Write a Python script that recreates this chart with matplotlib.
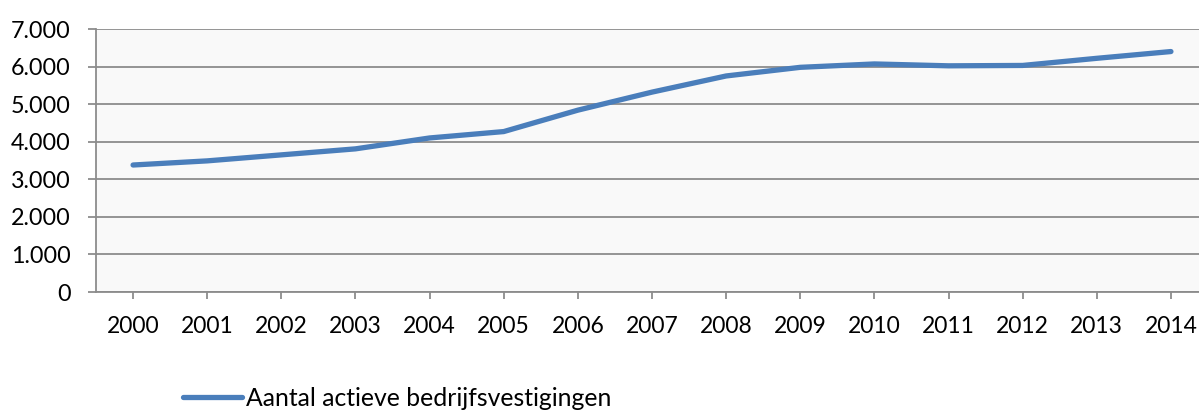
import matplotlib
matplotlib.use("Agg")
import matplotlib.pyplot as plt
from matplotlib.ticker import FuncFormatter

years = [str(y) for y in range(2000, 2015)]
vestigingen = [3380, 3490, 3650, 3810, 4100, 4270, 4840, 5320, 5750,
               5980, 6070, 6020, 6030, 6220, 6400]
series_name = "Aantal actieve bedrijfsvestigingen"

plt.rcParams['font.family'] = ['Lato', 'DejaVu Sans']

fig = plt.figure(figsize=(11.99, 4.11), dpi=100)
ax = fig.add_axes([96 / 1199, 1 - 292 / 411, 1112 / 1199, 263 / 411])
ax.set_facecolor('#F9F9F9')

x = list(range(len(years)))
ax.plot(x, vestigingen, color='#4A7EBB', linewidth=3.8,
        solid_capstyle='round', solid_joinstyle='round', label=series_name, zorder=3)

ax.set_xlim(-0.5, len(years) - 0.5)
ax.set_ylim(0, 7000)
ax.set_yticks(range(0, 7001, 1000))
ax.yaxis.set_major_formatter(FuncFormatter(lambda v, p: f"{int(v):,}".replace(",", ".")))
ax.set_xticks(x)
ax.set_xticklabels(years)

ax.grid(axis='y', color='#8C8C8C', linewidth=1.3, zorder=1)
ax.set_axisbelow(True)
for s in ['top', 'right']:
    ax.spines[s].set_visible(False)
for s in ['left', 'bottom']:
    ax.spines[s].set_color('#8C8C8C')
    ax.spines[s].set_linewidth(1.3)

ax.tick_params(axis='y', length=6, width=1.3, color='#8C8C8C', pad=12, labelsize=16.8)
ax.tick_params(axis='x', length=5, width=1.3, color='#8C8C8C', pad=12, labelsize=16.5)

fig.legend(loc='center left', bbox_to_anchor=(183 / 1199, 1 - 398 / 411),
           frameon=False, fontsize=17.8, handlelength=2.4, handletextpad=0.15,
           borderpad=0, borderaxespad=0)

fig.savefig("out.png", dpi=100)
